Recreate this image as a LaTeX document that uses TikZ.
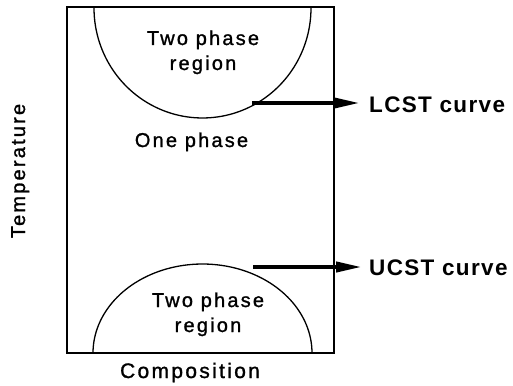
\documentclass[tikz,border=0pt]{standalone}
\usepackage{fontspec}
\setmainfont{Liberation Sans}
\newfontfamily\lblfont[LetterSpace=11,FakeBold=1.2]{Liberation Sans}
\newfontfamily\curvefont[LetterSpace=6]{Liberation Sans Bold}
\usetikzlibrary{arrows.meta}
\begin{document}
\begin{tikzpicture}[x=1pt,y=-1pt,
  lbl/.style={inner sep=0pt,anchor=base,font=\lblfont\fontsize{20}{22}\selectfont},
  curvelbl/.style={inner sep=0pt,anchor=base west,font=\curvefont\fontsize{22.5}{26}\selectfont},
  frame/.style={line width=1.6pt},
  axisline/.style={line width=2.6pt},
  phasecurve/.style={line width=1.3pt},
  pointer/.style={line width=4pt,-{Triangle[length=26pt,width=10pt]}}]
\useasboundingbox (0,0) rectangle (513,385);

% plot frame: thin top and right, heavy axes on left and bottom
\draw[frame] (67,7) rectangle (334,353);
\draw[axisline] (67,7) -- (67,353) -- (334,353);

% LCST dome hanging from the top and UCST dome rising from the bottom
\draw[phasecurve] plot[smooth,samples=80,domain=180:360] ({202.5+108.5*cos(\x)},{8-110*sin(\x)});
\draw[phasecurve] plot[smooth,samples=80,domain=0:180] ({202.5+109.5*cos(\x)},{353-89*sin(\x)});

% region labels
\node[lbl] (top1) at (203,45) {Two phase};
\node[lbl] (top2) at (203,70) {region};
\node[lbl] (one) at (191.5,147) {One phase};
\node[lbl] (bot1) at (208,307) {Two phase};
\node[lbl] (bot2) at (208,332) {region};

% axis titles
\node[lbl,font=\lblfont\fontsize{21}{24}\selectfont] (xaxis) at (190,378) {Composition};
\node[lbl,rotate=90] (yaxis) at (25,171) {Temperature};

% curve names with pointers
\node[curvelbl] (lcst) at (369,113) {LCST curve};
\node[curvelbl] (ucst) at (369,275) {UCST curve};
\coordinate (lcstfoot) at (252,103);
\coordinate (ucstfoot) at (253,267);
\draw[pointer] (lcstfoot) -- ([xshift=-9pt]lcstfoot -| lcst.west);
\draw[pointer] (ucstfoot) -- ([xshift=-7pt]ucstfoot -| ucst.west);
\end{tikzpicture}
\end{document}
